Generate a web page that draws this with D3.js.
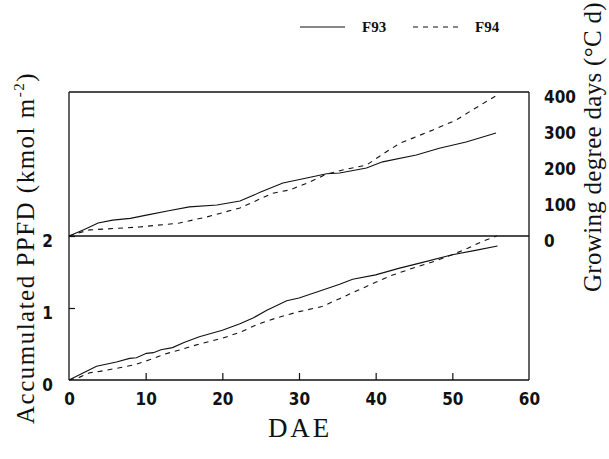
<!DOCTYPE html>
<html>
<head>
<meta charset="utf-8">
<script src="https://cdn.jsdelivr.net/npm/d3@7"></script>
<style>
  html, body { margin: 0; padding: 0; background: #fff; }
  svg { display: block; }
</style>
</head>
<body>
<svg id="chart" width="609" height="459"></svg>
<script>
// Days after emergence (DAE) ticks
const dayTicks = [0, 10, 20, 30, 40, 50, 60];
const ppfdTicks = [0, 1, 2];
const gddTicks = [0, 100, 200, 300, 400];

// Growing degree days (°C d), upper panel
const gddDays93 = [0, 2, 3.8, 5.7, 8, 10.1, 13, 15.7, 19.3, 22.3, 25, 27.9, 31, 33.6, 35.3, 38.8, 40.9, 45.3, 48.3, 51.8, 55.7];
const gdd93     = [0, 18, 36, 44, 49, 58, 70, 81, 86, 97, 122, 147, 161, 173, 175, 189, 206, 225, 244, 261, 286];
const gddDays94 = [0, 1.5, 2.7, 6, 9.2, 14.4, 18, 22.3, 26.6, 28.8, 31.4, 33.6, 36, 38.8, 41.4, 43.1, 47.4, 50.5, 52.6, 54.8, 55.6];
const gdd94     = [0, 10, 17, 21, 25, 36, 53, 78, 119, 128, 150, 172, 185, 197, 234, 257, 294, 322, 350, 378, 388];

// Accumulated PPFD (kmol m-2), lower panel
const ppfdDays93 = [0, 1.5, 3.6, 6.2, 7.9, 8.8, 10.1, 11, 12, 13.5, 15, 17, 20, 22.3, 24, 25.8, 28.4, 30, 33.1, 35.3, 37, 40, 43, 46, 50, 53, 55.9];
const ppfd93     = [0, 0.08, 0.19, 0.25, 0.30, 0.31, 0.37, 0.38, 0.42, 0.45, 0.52, 0.60, 0.69, 0.78, 0.86, 0.97, 1.10, 1.14, 1.25, 1.33, 1.40, 1.46, 1.55, 1.63, 1.74, 1.80, 1.86];
const ppfdDays94 = [0, 1.4, 2.7, 4, 6.6, 8.5, 10.5, 12.5, 14.5, 17, 20, 22.5, 24.5, 27, 30, 33, 35.3, 38.8, 42, 45.3, 48, 50, 52, 53.8, 55.8];
const ppfd94     = [0, 0.04, 0.10, 0.12, 0.17, 0.21, 0.28, 0.36, 0.42, 0.50, 0.58, 0.67, 0.77, 0.86, 0.95, 1.02, 1.13, 1.30, 1.45, 1.57, 1.66, 1.74, 1.83, 1.92, 2.0];

const seriesNames = ["F93", "F94"];

const svg = d3.select("#chart");
const plotLeft = 69, plotRight = 529, plotTop = 92, plotMid = 236, plotBottom = 380;

const x = d3.scaleLinear().domain([0, 60]).range([plotLeft, plotRight]);
const yP = d3.scaleLinear().domain([0, 2]).range([plotBottom, plotMid]);
const yG = d3.scaleLinear().domain([0, 400]).range([plotMid, plotTop]);

const tickFont = "'DejaVu Sans Condensed', 'DejaVu Sans', sans-serif";
const serif = "'Liberation Serif', 'Times New Roman', serif";

// Frame: both panels share the x range
const frame = svg.append("g").attr("stroke", "#111").attr("stroke-width", 1.3).attr("fill", "none");
frame.append("line").attr("x1", plotLeft).attr("x2", plotRight).attr("y1", plotTop).attr("y2", plotTop);
frame.append("line").attr("x1", plotLeft).attr("x2", plotRight).attr("y1", plotMid).attr("y2", plotMid);
frame.append("line").attr("x1", plotLeft).attr("x2", plotRight).attr("y1", plotBottom).attr("y2", plotBottom);
frame.append("line").attr("x1", plotLeft).attr("x2", plotLeft).attr("y1", plotTop).attr("y2", plotBottom);
frame.append("line").attr("x1", plotRight).attr("x2", plotRight).attr("y1", plotTop).attr("y2", plotBottom);

// X axis with inward ticks
const xAxis = svg.append("g").attr("transform", `translate(0,${plotBottom})`)
  .call(d3.axisBottom(x).tickValues(dayTicks).tickSizeInner(-7).tickSizeOuter(0).tickFormat(d3.format("d")));
xAxis.select(".domain").remove();
xAxis.selectAll(".tick line").attr("stroke", "#111").attr("stroke-width", 1.2)
  .filter(d => d === 0 || d === 60).remove();
xAxis.selectAll(".tick text").attr("y", 25).attr("dy", 0)
  .attr("font-family", tickFont).attr("font-weight", "bold").attr("font-size", 17).attr("fill", "#111");

// Left axis (PPFD, lower panel)
const yAxisL = svg.append("g").attr("transform", `translate(${plotLeft},0)`)
  .call(d3.axisLeft(yP).tickValues(ppfdTicks).tickSizeInner(-6).tickSizeOuter(0).tickPadding(16).tickFormat(d3.format("d")));
yAxisL.select(".domain").remove();
yAxisL.selectAll(".tick line").attr("stroke", "#111").attr("stroke-width", 1.2)
  .filter(d => d === 0).remove();
yAxisL.selectAll(".tick text").attr("y", 5)
  .attr("font-family", tickFont).attr("font-weight", "bold").attr("font-size", 17).attr("fill", "#111");

// Right axis (GDD, upper panel)
const yAxisR = svg.append("g").attr("transform", `translate(${plotRight},0)`)
  .call(d3.axisRight(yG).tickValues(gddTicks).tickSize(0).tickPadding(15).tickFormat(d3.format("d")));
yAxisR.select(".domain").remove();
yAxisR.selectAll(".tick text").attr("y", 5)
  .attr("font-family", tickFont).attr("font-weight", "bold").attr("font-size", 17).attr("fill", "#111");

// Curves
const lineG = d3.line().x(d => x(d[0])).y(d => yG(d[1]));
const lineP = d3.line().x(d => x(d[0])).y(d => yP(d[1]));
const zip = (a, b) => a.map((v, i) => [v, b[i]]);

const curves = [
  { path: lineG(zip(gddDays93, gdd93)), dash: null },
  { path: lineG(zip(gddDays94, gdd94)), dash: "5,5" },
  { path: lineP(zip(ppfdDays93, ppfd93)), dash: null },
  { path: lineP(zip(ppfdDays94, ppfd94)), dash: "5,5" }
];
svg.append("g").selectAll("path").data(curves).join("path")
  .attr("d", d => d.path)
  .attr("fill", "none")
  .attr("stroke", "#111")
  .attr("stroke-width", 1.1)
  .attr("stroke-dasharray", d => d.dash);

// Legend
const legend = svg.append("g");
const legendItems = [
  { name: seriesNames[0], x1: 300, x2: 345, tx: 362, dash: null },
  { name: seriesNames[1], x1: 413, x2: 458, tx: 475, dash: "5,5" }
];
legendItems.forEach(it => {
  legend.append("line").attr("x1", it.x1).attr("x2", it.x2).attr("y1", 27).attr("y2", 27)
    .attr("stroke", "#111").attr("stroke-width", 1.1).attr("stroke-dasharray", it.dash);
  legend.append("text").attr("x", it.tx).attr("y", 32).text(it.name)
    .attr("font-family", serif).attr("font-weight", "bold").attr("font-size", 15).attr("fill", "#111");
});

// Fit a label to a target length by spreading letters
function fitText(sel, target) {
  const n = sel.text().length;
  const natural = sel.node().getComputedTextLength();
  sel.attr("letter-spacing", Math.max(0, (target - natural) / n));
}

// X title
const xt = svg.append("text").attr("x", 300).attr("y", 437).attr("text-anchor", "middle")
  .attr("font-family", serif).attr("font-size", 27).attr("fill", "#111").text("DAE");
fitText(xt, 64);

// Left title
const lt = svg.append("text")
  .attr("transform", "translate(34,248) rotate(-90)")
  .attr("text-anchor", "middle")
  .attr("font-family", serif).attr("font-size", 25).attr("fill", "#111");
lt.append("tspan").text("Accumulated PPFD (kmol m");
lt.append("tspan").attr("font-size", 15).attr("dy", -10).text("-2");
lt.append("tspan").attr("dy", 10).text(")");
fitText(lt, 352);

// Right title
const rt = svg.append("text")
  .attr("transform", "translate(601,147) rotate(-90)")
  .attr("text-anchor", "middle")
  .attr("font-family", serif).attr("font-size", 25).attr("fill", "#111")
  .text("Growing degree days (°C d)");
fitText(rt, 290);
</script>
</body>
</html>
